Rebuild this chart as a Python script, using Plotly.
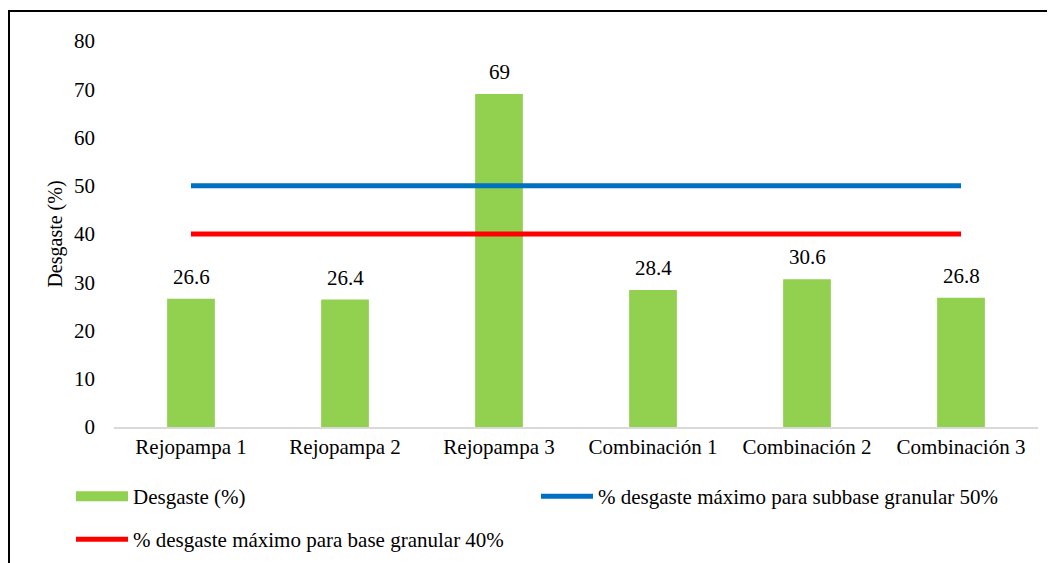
import plotly.graph_objects as go

categories = ["Rejopampa 1", "Rejopampa 2", "Rejopampa 3",
              "Combinación 1", "Combinación 2", "Combinación 3"]
desgaste = [26.6, 26.4, 69, 28.4, 30.6, 26.8]
limite_subbase = [50, 50, 50, 50, 50, 50]
limite_base = [40, 40, 40, 40, 40, 40]
y_ticks = [0, 10, 20, 30, 40, 50, 60, 70, 80]

FONT = "Liberation Serif"
# page has an 8px body margin, so the figure is 8px smaller on each side
W, H = 1047, 555
ML, MR, MT, MB = 106, 17, 33, 136
PW, PH = W - ML - MR, H - MT - MB

def px_x(px):
    return (px - ML) / PW

def px_y(py):
    return (H - MB - py) / PH

fig = go.Figure()
fig.add_trace(go.Bar(
    x=categories, y=desgaste, name="Desgaste (%)",
    marker=dict(color="#92D050", line=dict(width=0)),
    width=0.31, showlegend=False,
))
# legend entry for the bars drawn as a wide swatch
fig.add_trace(go.Scatter(
    x=[categories[0]], y=[None], mode="lines", name="Desgaste (%)",
    line=dict(color="#92D050", width=11), legend="legend",
))
fig.add_trace(go.Scatter(
    x=categories, y=limite_subbase, mode="lines",
    name="% desgaste máximo para subbase granular 50%",
    line=dict(color="#0070C0", width=5), legend="legend",
))
fig.add_trace(go.Scatter(
    x=categories, y=limite_base, mode="lines",
    name="% desgaste máximo para base granular 40%",
    line=dict(color="#FF0000", width=5), legend="legend2",
))

for c, v in zip(categories, desgaste):
    fig.add_annotation(
        x=c, y=v, text=f"{v:g}", showarrow=False,
        yanchor="bottom", yshift=8,
        font=dict(family=FONT, size=21, color="#000000"),
    )

# outer frame
fig.add_shape(type="rect", xref="paper", yref="paper",
              x0=px_x(1), x1=px_x(1070), y0=px_y(580), y1=px_y(3),
              line=dict(color="#000000", width=2), layer="below")

legend_common = dict(
    orientation="h", xanchor="left", yanchor="top",
    font=dict(family=FONT, size=21, color="#000000"),
    traceorder="normal", bgcolor="rgba(0,0,0,0)",
    itemwidth=52,
)

fig.update_layout(
    width=W, height=H,
    margin=dict(l=ML, r=MR, t=MT, b=MB, autoexpand=False),
    paper_bgcolor="#FFFFFF", plot_bgcolor="#FFFFFF",
    font=dict(family=FONT, size=21, color="#000000"),
    bargap=0.69,
    showlegend=True,
    legend=dict(x=px_x(63), y=px_y(468),
                entrywidth=398, entrywidthmode="pixels", **legend_common),
    legend2=dict(x=px_x(63), y=px_y(511), **legend_common),
    xaxis=dict(
        showline=True, linecolor="#D9D9D9", linewidth=2,
        ticks="", showgrid=False, zeroline=False,
        tickfont=dict(family=FONT, size=21),
    ),
    yaxis=dict(
        range=[0, 80], tickvals=y_ticks, showgrid=False,
        zeroline=False, showline=False, ticks="",
        tickfont=dict(family=FONT, size=21),
        ticklabelstandoff=18,
        title=dict(text="Desgaste (%)", font=dict(family=FONT, size=20), standoff=6),
    ),
)

fig.write_html("out.html")
